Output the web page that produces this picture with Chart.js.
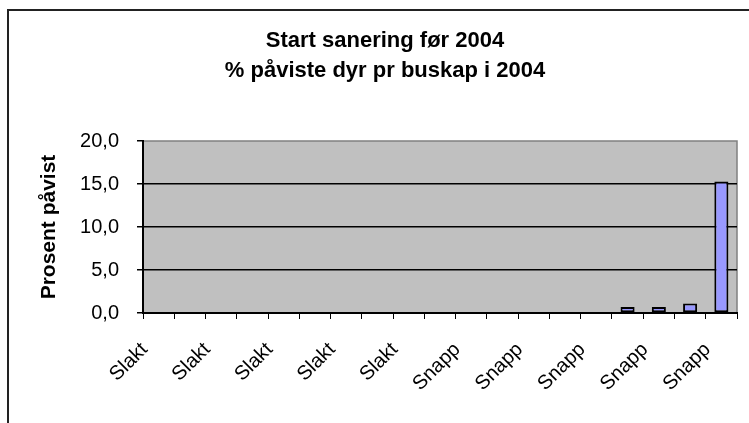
<!DOCTYPE html>
<html>
<head>
<meta charset="utf-8">
<script src="https://cdn.jsdelivr.net/npm/chart.js@4.4.0/dist/chart.umd.min.js"></script>
<style>
  body { margin: 0; background: #fff; }
  #wrap { width: 749px; height: 423px; position: relative; }
</style>
</head>
<body>
<div id="wrap"><canvas id="grafico"></canvas></div>
<script>
// ========== DATA ==========
const kategorier = ['Slakt', 'Slakt', 'Slakt', 'Slakt', 'Slakt', 'Slakt', 'Slakt', 'Slakt', 'Slakt', 'Slakt',
                    'Snapp', 'Snapp', 'Snapp', 'Snapp', 'Snapp', 'Snapp', 'Snapp', 'Snapp', 'Snapp'];
const prosentPavist = [0, 0, 0, 0, 0, 0, 0, 0, 0, 0, 0, 0, 0, 0, 0, 0.7, 0.7, 1.1, 15.3];
const yTicks = [0, 5, 10, 15, 20];
const tittel = ['Start sanering før 2004', '% påviste dyr pr buskap i 2004'];

const font = "'Liberation Sans', Arial, sans-serif";

// grå plotflate + ramme rundt hele diagrammet
const plotBakgrunn = {
    id: 'plotBakgrunn',
    beforeDraw(chart) {
        const { ctx, chartArea: a } = chart;
        ctx.save();
        ctx.fillStyle = '#c0c0c0';
        ctx.fillRect(a.left, a.top, a.right - a.left, a.bottom - a.top);
        ctx.strokeStyle = '#808080';
        ctx.lineWidth = 1.5;
        ctx.strokeRect(a.left, a.top, a.right - a.left, a.bottom - a.top);
        // ytre ramme
        ctx.strokeStyle = '#222';
        ctx.lineWidth = 2;
        ctx.beginPath();
        ctx.moveTo(8, chart.height + 5);
        ctx.lineTo(8, 10);
        ctx.lineTo(chart.width + 5, 10);
        ctx.stroke();
        ctx.restore();
    }
};

new Chart(document.getElementById('grafico'), {
    type: 'bar',
    data: {
        labels: kategorier,
        datasets: [{
            data: prosentPavist,
            backgroundColor: '#9999ff',
            borderColor: '#000',
            borderWidth: 2,
            borderSkipped: false,
            barPercentage: 0.45,
            categoryPercentage: 1
        }]
    },
    options: {
        responsive: true,
        maintainAspectRatio: false,
        animation: false,
        devicePixelRatio: 1,
        layout: { padding: { top: 0, left: 33, right: 12, bottom: 0 } },
        plugins: {
            legend: { display: false },
            tooltip: { enabled: false },
            title: {
                display: true,
                text: tittel,
                color: '#000',
                font: { family: font, size: 22, weight: 'bold', lineHeight: '30px' },
                padding: { top: 26, bottom: 55 }
            }
        },
        scales: {
            x: {
                grid: { drawOnChartArea: false, drawTicks: true, tickLength: 6, tickColor: '#000', offset: true },
                border: { color: '#000', width: 2 },
                ticks: {
                    autoSkip: false,
                    minRotation: 45,
                    maxRotation: 45,
                    color: '#000',
                    padding: 19,
                    labelOffset: -14,
                    font: { family: font, size: 20 },
                    callback: (v, i) => i % 2 === 0 ? kategorier[i] : ''
                },
                afterFit: s => {
                    s.height = 110;
                    s.paddingLeft = 0;
                    s.paddingRight = 0;
                }
            },
            y: {
                min: 0,
                max: 20,
                afterBuildTicks: s => { s.ticks = yTicks.map(v => ({ value: v })); },
                grid: {
                    color: c => c.tick && c.tick.value === 20 ? 'rgba(0,0,0,0)' : '#000',
                    tickColor: '#000',
                    tickLength: 6,
                    lineWidth: 1.5
                },
                border: { color: '#000', width: 2 },
                ticks: {
                    color: '#000',
                    padding: 18,
                    font: { family: font, size: 20 },
                    callback: v => v.toFixed(1).replace('.', ',')
                },
                title: {
                    display: true,
                    text: 'Prosent påvist',
                    color: '#000',
                    font: { family: font, size: 21, weight: 'bold' },
                    padding: { top: 4, bottom: 0 }
                },
                afterFit: s => { s.width = 110; }
            }
        }
    },
    plugins: [plotBakgrunn]
});
</script>
</body>
</html>
